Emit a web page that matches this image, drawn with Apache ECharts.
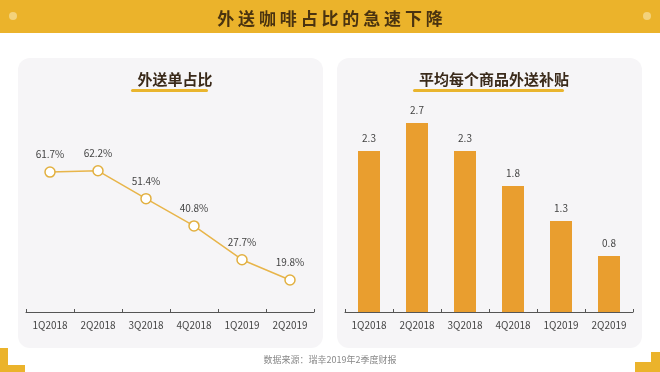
<!DOCTYPE html>
<html><head><meta charset="utf-8">
<script src="https://cdn.jsdelivr.net/npm/echarts@6/dist/echarts.min.js"></script>
<style>html,body{margin:0;padding:0;background:#fff}#c{width:660px;height:372px}</style>
</head><body><div id="c"></div>
<script>
const categories = ['1Q2018','2Q2018','3Q2018','4Q2018','1Q2019','2Q2019'];
const shareValues = [61.7, 62.2, 51.4, 40.8, 27.7, 19.8];
const subsidyValues = [2.3, 2.7, 2.3, 1.8, 1.3, 0.8];
const mainTitle = '外 送 咖 啡 占 比 的 急 速 下 降';
const leftTitle = '外送单占比';
const rightTitle = '平均每个商品外送补贴';
const footer = '数据来源：瑞幸2019年2季度财报';

const font = '"Noto Sans CJK SC", "Noto Sans", sans-serif';
const chart = echarts.init(document.getElementById('c'));
const axisCommon = {
  type: 'category', data: categories,
  axisLine: {lineStyle: {color: '#555', width: 1}},
  axisTick: {show: true, inside: true, length: 3, lineStyle: {color: '#555'}},
  axisLabel: {color: '#444', fontSize: 10, margin: 8, fontFamily: font}
};
chart.setOption({
  backgroundColor: '#fff',
  animation: false,
  graphic: [
    {type: 'rect', shape: {x: 0, y: 0, width: 660, height: 33}, style: {fill: '#EBB32B'}, z: -10},
    {type: 'circle', shape: {cx: 13, cy: 16, r: 4}, style: {fill: '#F3D27C'}, z: -9},
    {type: 'circle', shape: {cx: 647, cy: 16, r: 4}, style: {fill: '#F3D27C'}, z: -9},
    {type: 'rect', shape: {x: 18, y: 58, width: 305, height: 290, r: 12}, style: {fill: '#F6F5F7'}, z: -10},
    {type: 'rect', shape: {x: 337, y: 58, width: 305, height: 290, r: 12}, style: {fill: '#F6F5F7'}, z: -10},
    {type: 'rect', shape: {x: 131, y: 89, width: 77, height: 3, r: 1.5}, style: {fill: '#E9B52E'}, z: -8},
    {type: 'rect', shape: {x: 413, y: 89, width: 151, height: 3, r: 1.5}, style: {fill: '#E9B52E'}, z: -8},
    {type: 'rect', shape: {x: 0, y: 348, width: 8, height: 24}, style: {fill: '#EBB32B'}},
    {type: 'rect', shape: {x: 0, y: 365, width: 25, height: 7}, style: {fill: '#EBB32B'}},
    {type: 'rect', shape: {x: 651, y: 352, width: 9, height: 20}, style: {fill: '#EBB32B'}},
    {type: 'rect', shape: {x: 635, y: 362, width: 25, height: 10}, style: {fill: '#EBB32B'}},
    {type: 'text', x: 330, y: 360, style: {text: footer, fill: '#888', font: '9px ' + font, textAlign: 'center', textVerticalAlign: 'middle'}}
  ],
  title: [
    {text: mainTitle, left: 'center', top: 5, textStyle: {color: '#4A3310', fontSize: 17, fontWeight: 'bold', fontFamily: font}},
    {text: leftTitle, left: 170, textAlign: 'center', top: 67, textStyle: {color: '#3A2A1A', fontSize: 15, fontWeight: 'bold', fontFamily: font}},
    {text: rightTitle, left: 489, textAlign: 'center', top: 67, textStyle: {color: '#3A2A1A', fontSize: 15, fontWeight: 'bold', fontFamily: font}}
  ],
  grid: [
    {left: 26, top: 102, width: 288, height: 210},
    {left: 345, top: 102, width: 288, height: 210}
  ],
  xAxis: [
    Object.assign({gridIndex: 0}, axisCommon),
    Object.assign({gridIndex: 1}, axisCommon)
  ],
  yAxis: [
    {gridIndex: 0, type: 'value', min: 7.4, max: 88.9, show: false},
    {gridIndex: 1, type: 'value', min: 0, max: 3, show: false}
  ],
  series: [
    {type: 'line', xAxisIndex: 0, yAxisIndex: 0, data: shareValues,
     symbol: 'circle', symbolSize: 10,
     lineStyle: {color: '#E8B54A', width: 1.5},
     itemStyle: {color: '#fff', borderColor: '#E2B040', borderWidth: 1.5},
     label: {show: true, position: 'top', distance: 7, formatter: '{c}%', color: '#444', fontSize: 10, fontFamily: font}},
    {type: 'bar', xAxisIndex: 1, yAxisIndex: 1, data: subsidyValues, barWidth: 22,
     itemStyle: {color: '#E99E2F'},
     label: {show: true, position: 'top', distance: 8, color: '#444', fontSize: 10, fontFamily: font}}
  ]
});
</script></body></html>
